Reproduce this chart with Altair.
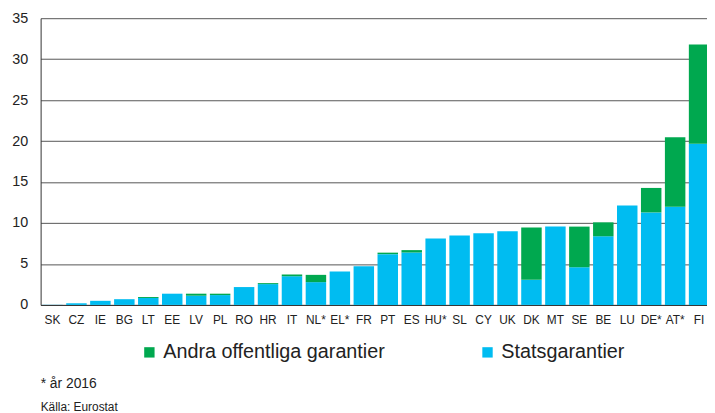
import altair as alt
import pandas as pd

countries = ["SK", "CZ", "IE", "BG", "LT", "EE", "LV", "PL", "RO", "HR", "IT", "NL*", "EL*",
             "FR", "PT", "ES", "HU*", "SL", "CY", "UK", "DK", "MT", "SE", "BE", "LU", "DE*", "AT*", "FI"]
stats = [0.02, 0.2, 0.5, 0.7, 0.85, 1.37, 1.13, 1.2, 2.18, 2.54, 3.5, 2.78, 4.08,
         4.72, 6.2, 6.4, 8.1, 8.47, 8.75, 8.99, 3.06, 9.56, 4.6, 8.38, 12.13, 11.29, 11.98, 19.68]
andra = [0.0, 0.0, 0.0, 0.0, 0.12, 0.0, 0.24, 0.17, 0.0, 0.12, 0.2, 0.89, 0.0,
         0.0, 0.18, 0.29, 0.0, 0.0, 0.0, 0.0, 6.38, 0.0, 4.96, 1.7, 0.0, 2.99, 8.5, 12.1]

series_names = ["Andra offentliga garantier", "Statsgarantier"]
colors = ["#00A84F", "#00BCF1"]

rows = []
for c, s, a in zip(countries, stats, andra):
    rows.append({"land": c, "serie": "Statsgarantier", "varde": s, "ordning": 0})
    rows.append({"land": c, "serie": "Andra offentliga garantier", "varde": a, "ordning": 1})
df = pd.DataFrame(rows)

font = "Liberation Sans"

chart = alt.Chart(df).mark_bar().encode(
    x=alt.X("land:N", sort=countries, title=None,
            scale=alt.Scale(paddingInner=0.145, paddingOuter=0.068, range=[0, 678]),
            axis=alt.Axis(labelAngle=0, ticks=False, labelFontSize=12, labelColor="#222",
                          labelFont=font, labelPadding=10, domainColor="#333")),
    y=alt.Y("varde:Q", stack="zero", title=None,
            scale=alt.Scale(domain=[0, 35], nice=False),
            axis=alt.Axis(values=[0, 5, 10, 15, 20, 25, 30, 35], ticks=False, labelFontSize=14.5,
                          labelColor="#222", labelFont=font, labelPadding=13,
                          gridColor="#555", gridWidth=1, domainColor="#333")),
    color=alt.Color("serie:N", scale=alt.Scale(domain=series_names, range=colors),
                    legend=alt.Legend(title=None, orient="none", legendX=100, legendY=328,
                                      direction="horizontal", columns=2, columnPadding=93,
                                      symbolType="square", symbolSize=110, symbolStrokeWidth=0,
                                      labelFontSize=20, labelFont=font, labelColor="#222",
                                      labelLimit=0, labelOffset=4)),
    order=alt.Order("ordning:Q"),
).properties(
    width=674,
    height=290,
    autosize=alt.AutoSizeParams(type="none"),
    padding={"left": 33, "top": 8, "right": 0, "bottom": 107},
    title=alt.TitleParams(text="* år 2016", subtitle="Källa: Eurostat", orient="bottom",
                          anchor="start", frame="group", fontSize=14, subtitleFontSize=12,
                          font=font, subtitleFont=font, color="#222", subtitleColor="#222",
                          fontWeight="normal", offset=15, subtitlePadding=11),
).configure_view(stroke=None).configure_axis(domainWidth=1)

chart.save("out.html", embed_options={"renderer": "svg", "actions": False})
